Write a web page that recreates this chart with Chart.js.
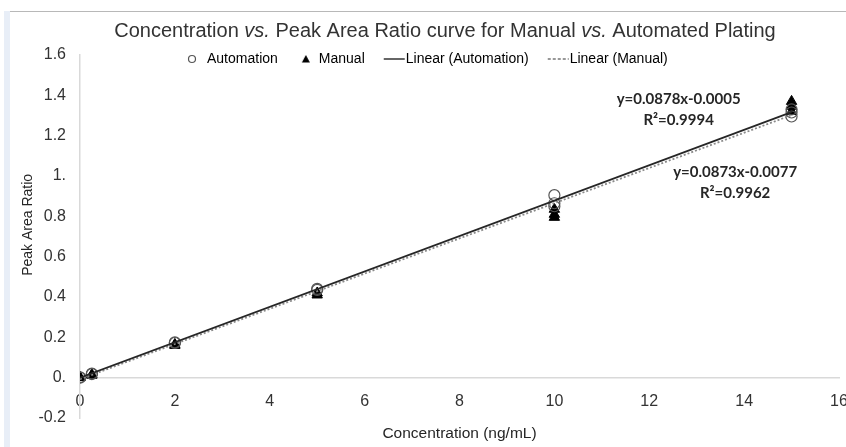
<!DOCTYPE html>
<html lang="en">
<head>
<meta charset="UTF-8">
<title>Concentration vs. Peak Area Ratio</title>
<script src="https://cdn.jsdelivr.net/npm/chart.js@4"></script>
<style>
  body { margin: 0; background: #fff; }
  .wrap { position: relative; width: 846px; height: 447px; }
  .wrap::before { content: ''; position: absolute; left: 8px; right: 0; top: 11px; height: 1px; background: #b8b8b8; }
  .wrap::after { content: ''; position: absolute; left: 4px; width: 6px; top: 11px; bottom: 0; background: #e8eef7; }
  canvas { position: absolute; left: 0; top: 0; }
</style>
</head>
<body>
<div class="wrap">
  <canvas id="curve" width="846" height="447"></canvas>
</div>
<script>
  const automationConc  = [0, 0, 0.25, 0.25, 2, 2, 5, 5, 10, 10, 10, 15, 15, 15];
  const automationRatio = [0.002, 0, 0.02, 0.018, 0.175, 0.172, 0.44, 0.435, 0.905, 0.865, 0.85, 1.33, 1.315, 1.295];
  const manualConc  = [0, 0, 0.25, 0.25, 2, 2, 5, 5, 10, 10, 10, 15, 15, 15];
  const manualRatio = [0, 0.002, 0.012, 0.015, 0.165, 0.16, 0.42, 0.41, 0.835, 0.81, 0.795, 1.37, 1.345, 1.32];

  // trendline end points (from the fitted equations)
  const trendConc = [0, 15];
  const automationTrend = [-0.0005, 1.3165];
  const manualTrend = [-0.0077, 1.3018];

  const seriesNames = ['Automation', 'Manual', 'Linear (Automation)', 'Linear (Manual)'];
  const yTickLabels = ['-0.2', '0.', '0.2', '0.4', '0.6', '0.8', '1.', '1.2', '1.4', '1.6'];
  const equationLines = [['y=0.0878x-0.0005', 'R²=0.9994'], ['y=0.0873x-0.0077', 'R²=0.9962']];
  const titleParts = [
    ['Concentration ', false], ['vs.', true], [' Peak Area Ratio curve for Manual ', false],
    ['vs.', true], [' Automated Plating', false]
  ];

  const toPoints = (xs, ys) => xs.map((x, i) => ({x: x, y: ys[i]}));

  Chart.defaults.font.family = '"Liberation Sans", Arial, sans-serif';
  Chart.defaults.color = '#333';

  // small legend markers like the Excel ones
  function marker(draw) {
    const c = document.createElement('canvas');
    c.width = 36; c.height = 14;
    draw(c.getContext('2d'));
    return c;
  }
  const legendMarkers = [
    marker(g => { g.strokeStyle = '#555'; g.lineWidth = 1.2; g.beginPath(); g.arc(21, 7, 3.5, 0, Math.PI * 2); g.stroke(); }),
    marker(g => { g.fillStyle = '#000'; g.beginPath(); g.moveTo(23, 3); g.lineTo(27, 10.5); g.lineTo(19, 10.5); g.closePath(); g.fill(); }),
    marker(g => { g.strokeStyle = '#333'; g.lineWidth = 1.5; g.beginPath(); g.moveTo(14, 7); g.lineTo(35, 7); g.stroke(); }),
    marker(g => { g.strokeStyle = '#777'; g.lineWidth = 1.5; g.setLineDash([3, 2]); g.beginPath(); g.moveTo(14, 7); g.lineTo(35, 7); g.stroke(); })
  ];

  // the Excel legend sits over the top of the plot area
  const legendShift = {
    id: 'legendShift',
    afterLayout(chart) {
      const lg = chart.legend;
      lg.left = 166;
      lg.right = 846;
      lg.top = 40;
      lg.bottom = 80;
      lg.width = lg.right - lg.left;
      lg.height = lg.bottom - lg.top;
    }
  };

  const extraText = {
    id: 'extraText',
    afterDraw(chart) {
      const ctx = chart.ctx;
      const {x, y} = chart.scales;
      ctx.save();
      ctx.fillStyle = '#333';
      ctx.textBaseline = 'middle';

      // title, with the italic "vs."
      const fam = '20px "Liberation Sans", Arial, sans-serif';
      let total = 0;
      titleParts.forEach(p => { ctx.font = (p[1] ? 'italic ' : '') + fam; total += ctx.measureText(p[0]).width; });
      let tx = 445 - total / 2;
      titleParts.forEach(p => {
        ctx.font = (p[1] ? 'italic ' : '') + fam;
        ctx.fillText(p[0], tx, 31);
        tx += ctx.measureText(p[0]).width;
      });

      // trendline equations
      ctx.font = 'bold 15px Lato, sans-serif';
      ctx.textAlign = 'center';
      ctx.fillStyle = '#262626';
      const anchors = [[12.62, 1.38], [13.81, 1.017]];
      equationLines.forEach((lines, k) => {
        const px = x.getPixelForValue(anchors[k][0]);
        const py = y.getPixelForValue(anchors[k][1]);
        lines.forEach((t, i) => ctx.fillText(t, px, py + i * 21));
      });
      ctx.restore();
    }
  };

  new Chart(document.getElementById('curve'), {
    type: 'scatter',
    data: {
      datasets: [
        {
          label: seriesNames[0],
          data: toPoints(automationConc, automationRatio),
          pointStyle: 'circle',
          pointRadius: 5.5,
          borderColor: '#555',
          backgroundColor: 'rgba(0,0,0,0)',
          borderWidth: 1.2,
          order: 2
        },
        {
          label: seriesNames[1],
          data: toPoints(manualConc, manualRatio),
          pointStyle: 'triangle',
          pointRadius: 6,
          borderColor: '#000',
          backgroundColor: '#000',
          borderWidth: 1,
          order: 3
        },
        {
          label: seriesNames[2],
          data: toPoints(trendConc, automationTrend),
          showLine: true,
          pointRadius: 0,
          borderColor: '#262626',
          borderWidth: 1.8,
          order: 0
        },
        {
          label: seriesNames[3],
          data: toPoints(trendConc, manualTrend),
          showLine: true,
          pointRadius: 0,
          borderColor: '#8a8a8a',
          borderDash: [2, 2],
          borderWidth: 1.8,
          order: 1
        }
      ]
    },
    options: {
      responsive: false,
      animation: false,
      layout: { padding: { top: 35, right: 6, bottom: 0, left: 0 } },
      scales: {
        x: {
          type: 'linear',
          position: { y: 0 },
          min: 0,
          max: 16,
          ticks: { stepSize: 2, padding: 14, font: { size: 16 } },
          grid: { display: false, drawTicks: false },
          border: { color: '#d9d9d9', width: 1.5 },
          afterFit: s => { s.height = 0; s.paddingLeft = 0; s.paddingRight = 0; }
        },
        xTitle: {
          type: 'linear',
          position: 'bottom',
          min: 0,
          max: 16,
          ticks: { display: false },
          grid: { display: false, drawTicks: false },
          border: { display: false },
          title: { display: true, text: 'Concentration (ng/mL)', color: '#262626', font: { size: 15.5 }, padding: { top: 0, bottom: 4 } },
          afterFit: s => { s.height = 29; s.paddingLeft = 0; s.paddingRight = 0; }
        },
        y: {
          min: -0.2,
          max: 1.6,
          ticks: { stepSize: 0.2, padding: 14, font: { size: 16 }, callback: (v, i) => yTickLabels[i] },
          grid: { display: false, drawTicks: false },
          border: { color: '#d9d9d9', width: 1.5 },
          // leading spaces nudge the label up a little, as in the original
          title: { display: true, text: '      Peak Area Ratio', color: '#262626', font: { size: 14 }, padding: { top: 20, bottom: 0 } },
          afterFit: s => { s.width = 80; }
        }
      },
      plugins: {
        legend: {
          position: 'top',
          align: 'start',
          maxHeight: 20,
          labels: {
            usePointStyle: true,
            pointStyleWidth: 22,
            padding: 12,
            font: { size: 14 },
            color: '#333',
            generateLabels: chart => chart.data.datasets.map((ds, i) => ({
              text: ds.label,
              pointStyle: legendMarkers[i],
              fillStyle: 'rgba(0,0,0,0)',
              strokeStyle: 'rgba(0,0,0,0)',
              lineWidth: 0,
              hidden: false,
              datasetIndex: i
            }))
          }
        },
        tooltip: { enabled: false }
      }
    },
    plugins: [legendShift, extraText]
  });
</script>
</body>
</html>
